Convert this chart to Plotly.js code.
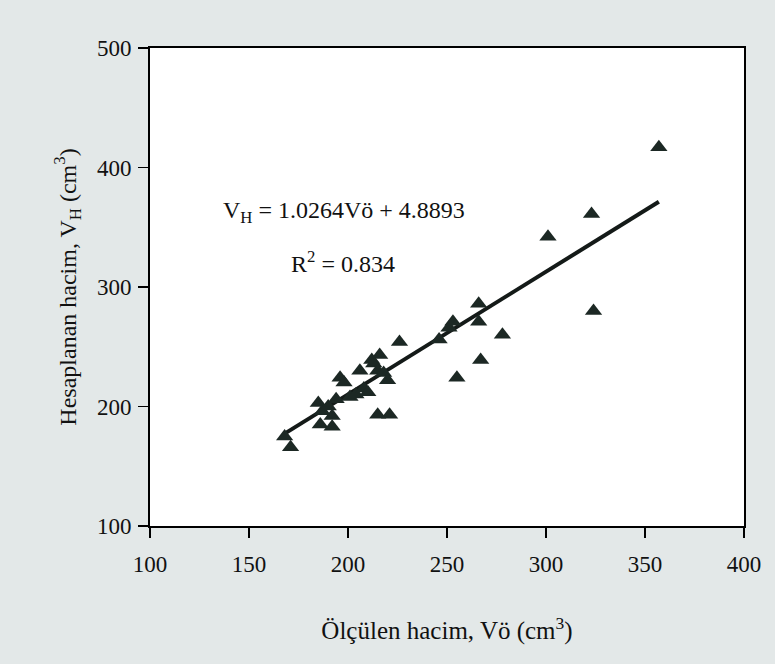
<!DOCTYPE html>
<html>
<head>
<meta charset="utf-8">
<script src="https://cdn.plot.ly/plotly-3.0.1.min.js"></script>
<style>html,body{margin:0;padding:0;background:#e3e8e8;}</style>
</head>
<body>
<div id="chart" style="width:775px;height:664px;"></div>
<script>
// Measured volume Vö (cm^3)
const measured = [168, 171, 185, 187, 186, 190, 192, 192, 194, 196, 198, 201, 204, 206, 208, 210, 212, 213, 215, 216, 215, 218, 220, 221, 226, 246, 251, 253, 255, 266, 266, 267, 278, 301, 323, 324, 357];
// Calculated volume VH (cm^3)
const calculated = [175, 166, 203, 196, 185, 200, 183, 192, 206, 224, 220, 208, 210, 230, 215, 212, 239, 236, 230, 243, 193, 228, 222, 193, 254, 256, 266, 271, 224, 286, 271, 239, 260, 342, 361, 280, 417];
// Regression: VH = 1.0264 Vö + 4.8893
const slope = 1.0264, intercept = 4.8893;
const fitX = [Math.min(...measured), Math.max(...measured)];
const fitY = fitX.map(x => slope * x + intercept);

const serif = "Liberation Serif, DejaVu Serif, serif";

const traces = [
  {
    x: fitX, y: fitY, type: 'scatter', mode: 'lines',
    line: {color: '#141a18', width: 4}, hoverinfo: 'skip'
  },
  {
    x: measured, y: calculated, type: 'scatter', mode: 'markers',
    marker: {symbol: 'triangle-up', size: 15, color: '#1c2824'}
  }
];

const layout = {
  width: 775, height: 664,
  paper_bgcolor: '#e3e8e8', plot_bgcolor: '#ffffff',
  margin: {l: 150, r: 31, t: 48, b: 138},
  showlegend: false,
  font: {family: serif, color: '#111', size: 22},
  xaxis: {
    range: [100, 400], dtick: 50, tick0: 100,
    showgrid: false, zeroline: false,
    showline: true, mirror: true, linecolor: '#000', linewidth: 2,
    ticks: 'outside', ticklen: 10, tickwidth: 1.5, tickcolor: '#000',
    ticklabelstandoff: 6,
    tickfont: {family: serif, size: 23, color: '#111'},
    title: {text: 'Ölçülen hacim, Vö (cm<sup>3</sup>)', font: {family: serif, size: 25, color: '#111'}, standoff: 46}
  },
  yaxis: {
    range: [100, 500], dtick: 100, tick0: 100,
    showgrid: false, zeroline: false,
    showline: true, mirror: true, linecolor: '#000', linewidth: 2,
    ticks: 'outside', ticklen: 10, tickwidth: 1.5, tickcolor: '#000',
    ticklabelstandoff: 2,
    tickfont: {family: serif, size: 23, color: '#111'},
    title: {text: 'Hesaplanan hacim, V<sub>H</sub> (cm<sup>3</sup>)', font: {family: serif, size: 24, color: '#111'}, standoff: 14}
  },
  annotations: [
    {
      xref: 'paper', yref: 'paper', x: (344 - 150) / 594, y: (526 - 212) / 478,
      text: 'V<sub>H</sub> = 1.0264Vö + 4.8893', showarrow: false,
      font: {family: serif, size: 24, color: '#111'}, xanchor: 'center', yanchor: 'middle'
    },
    {
      xref: 'paper', yref: 'paper', x: (343 - 150) / 594, y: (526 - 262) / 478,
      text: 'R<sup>2</sup> = 0.834', showarrow: false,
      font: {family: serif, size: 24, color: '#111'}, xanchor: 'center', yanchor: 'middle'
    }
  ]
};

Plotly.newPlot('chart', traces, layout, {displayModeBar: false, staticPlot: true});
</script>
</body>
</html>
